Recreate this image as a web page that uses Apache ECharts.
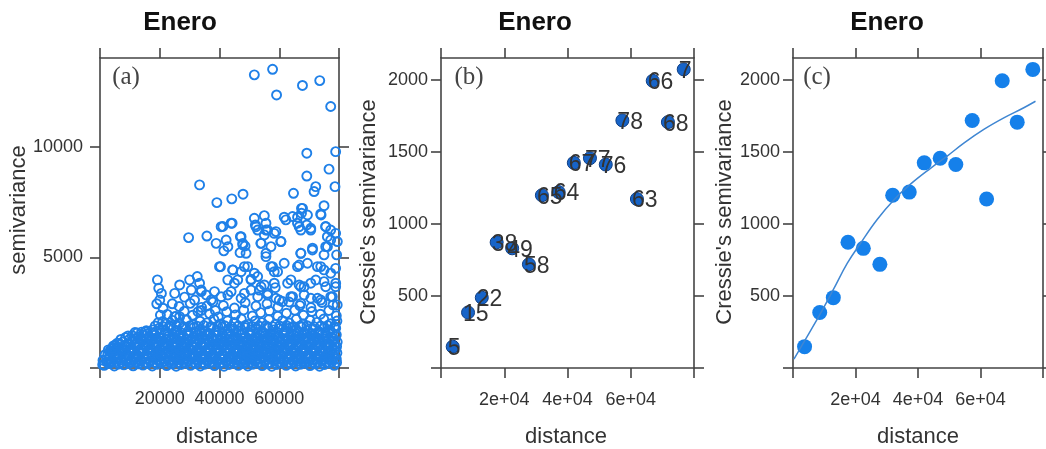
<!DOCTYPE html>
<html><head><meta charset="utf-8">
<script src="https://cdn.jsdelivr.net/npm/echarts@6/dist/echarts.min.js"></script>
<style>html,body{margin:0;padding:0;background:#fff}#c{width:1046px;height:449px}</style>
</head><body><div id="c"></div>
<script>
// ---------- text ----------
const panelTitles = ['Enero', 'Enero', 'Enero'];
const panelLetters = ['(a)', '(b)', '(c)'];
const xName = 'distance';
const yNames = ['semivariance', "Cressie's semivariance", "Cressie's semivariance"];

// ---------- ticks ----------
const xTicks = [0, 20000, 40000, 60000, 80000];
const xTickLabels = [20000, 40000, 60000];
const xTickTextA = ['20000', '40000', '60000'];
const xTickTextBC = ['2e+04', '4e+04', '6e+04'];
const yTicksA = [0, 5000, 10000];
const yLabelsA = [5000, 10000];
const yTicksBC = [0, 500, 1000, 1500, 2000];
const yLabelsBC = [500, 1000, 1500, 2000];

// ---------- panel (a): variogram cloud [distance, semivariance] ----------
const cloudOutliers = [
 [51660,13240],[57770,13490],[59100,12330],[67770,12760],[73550,12980],[77220,11810],
 [69220,9700],[78880,9770],[76660,8980],[69220,8670],[78660,8190],[72210,8190],[71660,7970],[64770,7890],[74990,7330],
 [33330,8270],[39110,7470],[44110,7640],[47880,7850],
 [67440,7210],[67440,6990],[73880,6960],[75550,6390],[78880,6080],[77220,5780],[75550,5480],[79440,5710],[70550,6310],[69220,6460],[62220,6690],[64440,6840],[66100,6540],
 [51660,6760],[55000,6880],[52000,6460],[55550,6230],[55000,6010],[53880,5630],[58880,6160],[60550,5710],[57220,5480],
 [29660,5890],[35770,5960],[38880,5630],[41440,5290],[42220,5780],[41110,6390],[44220,6540],[46990,5930],[48550,5510],[46880,5210],[47770,5630],
 [67220,5180],[71100,5330],[74990,5110],[79210,5110],[61660,4730],[55550,5030],[57770,4580],[59440,4350],[66100,4580],[69440,4730],[72770,4580],[74990,4430],[78880,4500],
 [40330,4580],[44440,4430],[47220,4350],[49440,4580],[52770,4130],[50550,4010],[46100,3980],[42770,3980],
 [55000,3750],[58660,3630],[63880,3980],[66660,3750],[68330,3670],[70550,3830],[74990,3900],[78880,3670],
 [19220,3980],[19660,3600],[20550,3370],[20000,3070],[21110,2700],[20220,2390],[19000,2900],[21000,2100],
 [26660,3750],[30000,3980],[32550,4130],[33330,3830],[30550,3520],[33880,3520],[35550,3300],[38330,3450],[40550,3220],[43880,3450],[48330,3370],[50550,3520],[53330,3520],[56100,3300],[58880,3150],[61100,3000],[63880,3220],[67220,2920],[70550,3150],[73880,3070],[77770,3220],[79400,2850],
 [67790,7210],[69440,6910],[73990,6910],[66130,6810],[61660,6810],[55550,6540],[52220,6380],[52770,6230],[56100,6230],[58330,6080],[66660,6380],[70550,6230],[67220,6230],[75550,6380],[77220,6230],[76100,5930],[43880,6540],[40550,6380],[47220,5930],
 [26660,2320],[25000,2320],[32800,2540],[37220,3070],[40000,4575],[31660,3070],[33900,3450],[25000,3370],[28300,3200],[24200,2900],[35800,2800],[38600,2600],
 [42800,5480],[47800,5560],[48900,5180],[53900,5630],[55560,5180],[60560,5710],[67230,5180],[71130,5410],[76130,5480],[44460,4430],[48330,4580],[51660,4280],[57230,4580],[58330,4350],[66660,4650],[73890,4580],[77230,4280],
 [45000,3830],[50560,3975],[53900,3670],[58330,3830],[62800,3830],[67230,3670],[72230,3975],[75560,3670],[78900,3830],
 [42800,3300],[47230,3150],[52800,3220],[56130,3375],[60000,3070],[64460,3220],[68330,3300],[72800,3150],[77230,3220]
];
const cloudDense = [
 [1000,350],[1700,600],[2800,820],[3700,700],[4500,1000],[900,150],[6130,890],[9400,1450],[11700,1600],[13900,1620],[15500,1680],
 [1400,120],[3100,210],[4800,90],[6300,180],[8000,140],[9600,230],[11100,100],[12900,190],[14400,130],[16000,220],[17500,90],[19200,170],[20700,240],[22300,110],[24000,190],[25500,80],[27200,160],[28800,230],[30300,120],[32000,200],[33600,90],[35100,170],[36800,240],[38300,110],[40000,190],[41500,80],[43200,160],[44800,230],[46300,120],[48000,200],[49500,90],[51200,170],[52800,240],[54300,110],[56000,190],[57500,80],[59200,160],[60800,230],[62300,120],[64000,200],[65500,90],[67200,170],[68800,240],[70300,110],[72000,190],[73500,80],[75200,160],[76800,230],[78400,120],
 [2300,270],[3900,250],[5600,290],[7200,260],[8800,300],[10400,250],[12000,280],[13600,300],[15200,260],[16800,290],[18400,250],[20000,280],[21600,300],[23200,260],[24800,290],[26400,250],[28000,270],[29600,300],[31200,260],[32800,280],[34400,250],[36000,300],[37600,270],[39200,290],[40800,250],[42400,280],[44000,300],[45600,260],[47200,290],[48800,250],[50400,270],[52000,300],[53600,260],[55200,280],[56800,250],[58400,300],[60000,270],[61600,290],[63200,250],[64800,280],[66400,300],[68000,260],[69600,290],[71200,250],[72800,270],[74400,300],[76000,260],[77600,280],[79200,250],
 [2200,380],[3900,330],[5500,450],[7100,360],[8800,420],[10300,340],[12000,460],[13600,370],[15200,410],[16800,330],[18400,450],[20000,360],[21500,430],[23200,340],[24800,460],[26400,370],[28000,410],[29600,330],[31100,450],[32800,360],[34400,430],[36000,340],[37600,460],[39100,370],[40800,410],[42400,330],[44000,450],[45500,360],[47200,430],[48800,340],[50400,460],[52000,370],[53500,410],[55200,330],[56800,450],[58400,360],[60000,430],[61500,340],[63200,460],[64800,370],[66400,410],[68000,330],[69500,450],[71200,360],[72800,430],[74400,340],[76000,460],[77500,370],[79100,410],
 [3200,520],[4800,540],[6300,500],[8000,530],[9600,550],[11100,510],[12900,540],[14400,500],[16000,530],[17500,550],[19200,510],[20700,540],[22300,500],[24000,530],[25500,550],[27200,510],[28800,540],[30300,500],[32000,530],[33600,550],[35100,510],[36800,540],[38300,500],[40000,530],[41500,550],[43200,510],[44800,540],[46300,500],[48000,530],[49500,550],[51200,510],[52800,540],[54300,500],[56000,530],[57500,550],[59200,510],[60800,540],[62300,500],[64000,530],[65500,550],[67200,510],[68800,540],[70300,500],[72000,530],[73500,550],[75200,510],[76800,540],[78400,500],
 [2600,620],[4300,700],[5900,590],[7500,680],[9100,610],[10700,720],[12300,600],[13900,690],[15500,580],[17100,670],[18700,710],[20300,600],[21900,680],[23500,590],[25100,720],[26700,630],[28300,690],[29900,580],[31500,660],[33100,710],[34700,600],[36300,680],[37900,590],[39500,720],[41100,630],[42700,690],[44300,580],[45900,660],[47500,710],[49100,600],[50700,680],[52300,590],[53900,720],[55500,630],[57100,690],[58700,580],[60300,660],[61900,710],[63500,600],[65100,680],[66700,590],[68300,720],[69900,630],[71500,690],[73100,580],[74700,660],[76300,710],[77900,600],[79300,680],
 [3400,780],[5000,800],[6600,770],[8200,810],[9800,790],[11400,760],[13000,800],[14600,780],[16200,810],[17800,770],[19400,790],[21000,800],[22600,760],[24200,810],[25800,780],[27400,790],[29000,770],[30600,810],[32200,780],[33800,760],[35400,800],[37000,790],[38600,810],[40200,770],[41800,780],[43400,800],[45000,760],[46600,810],[48200,790],[49800,770],[51400,800],[53000,780],[54600,810],[56200,760],[57800,790],[59400,800],[61000,770],[62600,810],[64200,780],[65800,760],[67400,800],[69000,790],[70600,810],[72200,770],[73800,780],[75400,800],[77000,760],[78600,810],
 [4100,880],[5700,950],[7300,860],[8900,980],[10500,890],[12100,940],[13700,850],[15300,970],[16900,900],[18500,960],[20100,860],[21700,990],[23300,880],[24900,940],[26500,850],[28100,970],[29700,900],[31300,950],[32900,860],[34500,980],[36100,890],[37700,940],[39300,850],[40900,970],[42500,900],[44100,960],[45700,860],[47300,990],[48900,880],[50500,940],[52100,850],[53700,970],[55300,900],[56900,950],[58500,860],[60100,980],[61700,890],[63300,940],[64900,850],[66500,970],[68100,900],[69700,960],[71300,860],[72900,990],[74500,880],[76100,940],[77700,850],[79200,970],
 [5000,1030],[6600,1060],[8200,1020],[9800,1050],[11400,1040],[13000,1070],[14600,1020],[16200,1050],[17800,1030],[19400,1060],[21000,1040],[22600,1020],[24200,1070],[25800,1030],[27400,1050],[29000,1040],[30600,1020],[32200,1060],[33800,1030],[35400,1070],[37000,1040],[38600,1020],[40200,1050],[41800,1060],[43400,1030],[45000,1040],[46600,1070],[48200,1020],[49800,1050],[51400,1030],[53000,1060],[54600,1040],[56200,1020],[57800,1070],[59400,1030],[61000,1050],[62600,1040],[64200,1060],[65800,1020],[67400,1050],[69000,1030],[70600,1070],[72200,1040],[73800,1020],[75400,1060],[77000,1030],[78600,1050],
 [5800,1120],[7700,1180],[9300,1100],[10900,1240],[12500,1150],[14100,1210],[15700,1110],[17300,1250],[18900,1160],[20500,1220],[22100,1120],[23700,1260],[25300,1140],[26900,1200],[28500,1100],[30100,1230],[31700,1170],[33300,1250],[34900,1110],[36500,1190],[38100,1240],[39700,1130],[41300,1210],[42900,1160],[44500,1260],[46100,1100],[47700,1200],[49300,1150],[50900,1240],[52500,1120],[54100,1210],[55700,1170],[57300,1250],[58900,1110],[60500,1190],[62100,1240],[63700,1130],[65300,1220],[66900,1160],[68500,1260],[70100,1100],[71700,1200],[73300,1150],[74900,1240],[76500,1120],[78100,1210],[79400,1170],
 [7000,1290],[9900,1310],[11800,1300],[13600,1320],[15400,1290],[17100,1310],[18800,1300],[20500,1330],[22200,1290],[23900,1310],[25600,1300],[27300,1320],[29000,1290],[30700,1310],[32400,1300],[34100,1330],[35800,1290],[37500,1310],[39200,1300],[40900,1320],[42600,1290],[44300,1310],[46000,1300],[47700,1330],[49400,1290],[51100,1310],[52800,1300],[54500,1320],[56200,1290],[57900,1310],[59600,1300],[61300,1330],[63000,1290],[64700,1310],[66400,1300],[68100,1320],[69800,1290],[71500,1310],[73200,1300],[74900,1330],[76600,1290],[78300,1310],
 [8600,1380],[10800,1460],[12700,1400],[14600,1500],[16500,1420],[18200,1480],[19900,1370],[21500,1510],[23100,1440],[24700,1390],[26300,1500],[27900,1420],[29500,1470],[31100,1380],[32700,1520],[34300,1430],[35900,1490],[37500,1400],[39100,1460],[40700,1370],[42300,1510],[43900,1440],[45500,1390],[47100,1500],[48700,1420],[50300,1480],[51900,1370],[53500,1510],[55100,1440],[56700,1400],[58300,1490],[59900,1420],[61500,1470],[63100,1380],[64700,1520],[66300,1430],[67900,1490],[69500,1400],[71100,1460],[72700,1370],[74300,1510],[75900,1440],[77500,1390],[79100,1500],
 [12400,1580],[16000,1560],[18000,1600],[20300,1590],[22600,1570],[24900,1610],[27200,1580],[29500,1560],[31800,1600],[34100,1590],[36400,1570],[38700,1610],[41000,1580],[43300,1560],[45600,1600],[47900,1590],[50200,1570],[52500,1610],[54800,1580],[57100,1560],[59400,1600],[61700,1590],[64000,1570],[66300,1610],[68600,1580],[70900,1560],[73200,1600],[75500,1590],[77800,1570],
 [15200,1650],[17600,1720],[19800,1800],[21900,1680],[23800,1840],[25700,1700],[27600,1790],[29500,1660],[31400,1830],[33300,1720],[35200,1650],[37100,1810],[39000,1700],[40900,1850],[42800,1680],[44700,1760],[46600,1660],[48500,1830],[50400,1710],[52300,1800],[54200,1670],[56100,1840],[58000,1720],[59900,1780],[61800,1660],[63700,1820],[65600,1700],[67500,1850],[69400,1690],[71300,1770],[73200,1660],[75100,1830],[77000,1710],[78900,1800],
 [18500,1900],[21000,1880],[23300,1920],[25600,1900],[27900,1870],[30200,1910],[32500,1890],[34800,1920],[37100,1880],[39400,1900],[41700,1910],[44000,1870],[46300,1900],[48600,1920],[50900,1880],[53200,1900],[55500,1910],[57800,1870],[60100,1900],[62400,1920],[64700,1880],[67000,1900],[69300,1910],[71600,1870],[73900,1900],[76200,1920],[78500,1880],
 [19500,2050],[22000,1980],[24300,2150],[26600,2020],[28900,2180],[31200,1960],[33500,2110],[35800,2040],[38100,2200],[40400,1990],[42700,2130],[45000,2060],[47300,2210],[49600,1970],[51900,2120],[54200,2050],[56500,2190],[58800,1980],[61100,2140],[63400,2030],[65700,2200],[68000,1990],[70300,2150],[72600,2060],[74900,2210],[77200,2000],[79300,2120],
 [22500,2420],[25400,2330],[28200,2560],[31000,2380],[33900,2600],[36700,2450],[39600,2310],[42400,2540],[45300,2400],[48100,2620],[51000,2350],[53800,2500],[56700,2580],[59500,2340],[62400,2470],[65200,2610],[68100,2380],[70900,2550],[73800,2430],[76600,2600],[79100,2360],
 [26500,2780],[30200,2920],[34000,2740],[37800,2980],[41300,2820],[45000,2710],[48600,2950],[52200,2800],[55900,2900],[59600,2760],[63300,2980],[66900,2820],[70600,2730],[74300,2960],[78000,2850]
];

// ---------- panels (b), (c): binned sample variogram ----------
const binDistance = [3700, 8550, 12900, 17600, 22500, 27800, 31900, 37200, 42000, 47100, 52100, 57350, 61950, 66950, 71750, 76750];
const binGamma    = [148, 385, 488, 872, 830, 719, 1198, 1220, 1423, 1455, 1411, 1717, 1172, 1992, 1705, 2071];
const binPairs    = ['5','15','22','38','49','58','65','64','67','77','76','78','63','66','68','7'];

// ---------- panel (c): fitted model curve ----------
const fitDistance = [300, 2940, 8580, 13060, 17340, 21600, 26940, 32260, 37600, 44000, 49340, 54660, 61060, 67460, 73860, 77600];
const fitGamma    = [62, 160, 370, 550, 725, 865, 1030, 1165, 1275, 1385, 1470, 1560, 1655, 1735, 1805, 1850];

// ---------- build ----------
const FONT = "'Liberation Sans', Arial, sans-serif";
const AX = '#444';
const lineStyle = {color: AX, width: 1.6};
const grids = [
  {left: 100, top: 58, width: 239, height: 310},
  {left: 441, top: 58, width: 253, height: 310},
  {left: 793, top: 58, width: 250, height: 310}
];
const xAxes = [], yAxes = [];
grids.forEach((g, i) => {
  const txt = i === 0 ? xTickTextA : xTickTextBC;
  const base = {gridIndex: i, type: 'value', min: 0, max: 80000, interval: 20000,
    axisLine: {show: true, onZero: false, lineStyle},
    axisTick: {show: true, length: 10, lineStyle, customValues: xTicks},
    splitLine: {show: false}};
  xAxes.push(Object.assign({}, base, {position: 'bottom',
    axisLabel: {show: true, customValues: xTickLabels, margin: i === 0 ? 22 : 23, fontSize: 18, fontFamily: FONT, color: '#333',
      formatter: v => txt[xTickLabels.indexOf(v)]}}));
  xAxes.push(Object.assign({}, base, {position: 'top', axisLabel: {show: false}}));
  const yt = i === 0 ? yTicksA : yTicksBC;
  const yl = i === 0 ? yLabelsA : yLabelsBC;
  const ybase = {gridIndex: i, type: 'value', min: 0, max: i === 0 ? 14000 : 2150, interval: i === 0 ? 5000 : 500,
    axisLine: {show: true, onZero: false, lineStyle},
    axisTick: {show: true, length: 10, lineStyle, customValues: yt},
    splitLine: {show: false}};
  yAxes.push(Object.assign({}, ybase, {position: 'left',
    axisLabel: {show: true, customValues: yl, margin: i === 0 ? 17 : 13, fontSize: 18, fontFamily: FONT, color: '#333',
      formatter: v => String(v)}}));
  yAxes.push(Object.assign({}, ybase, {position: 'right', axisLabel: {show: false}}));
});

const series = [
  {type: 'scatter', xAxisIndex: 0, yAxisIndex: 0, symbol: 'circle', symbolSize: 9,
   itemStyle: {color: 'rgba(0,0,0,0)', borderColor: '#1f80e8', borderWidth: 1.9, opacity: 1},
   data: cloudDense.concat(cloudOutliers), silent: true},
  {type: 'scatter', xAxisIndex: 2, yAxisIndex: 2, symbol: 'circle', symbolSize: 13,
   itemStyle: {color: '#1764c8', borderColor: '#0f3f85', borderWidth: 1, opacity: 1},
   data: binDistance.map((d, i) => [d, binGamma[i], binPairs[i]]),
   label: {show: true, position: 'inside', align: 'left', verticalAlign: 'middle', offset: [-5, 2],
     formatter: p => p.value[2], fontSize: 23, fontFamily: FONT, color: '#333'}, silent: true},
  {type: 'scatter', xAxisIndex: 4, yAxisIndex: 4, symbol: 'circle', symbolSize: 15,
   itemStyle: {color: '#1580ea', opacity: 1}, data: binDistance.map((d, i) => [d, binGamma[i]]), silent: true},
  {type: 'line', xAxisIndex: 4, yAxisIndex: 4, smooth: 0.4, showSymbol: false, z: 5,
   lineStyle: {color: '#3f86d2', width: 1.5}, data: fitDistance.map((d, i) => [d, fitGamma[i]]), silent: true}
];

const titleX = [180, 535, 887];
const letterPos = [[126, 77], [469, 77], [817, 77]];
const yNamePos = [[19, 210], [369, 212], [725, 212]];
const xNameX = [217, 566, 918];
const graphic = [];
for (let i = 0; i < 3; i++) {
  graphic.push({type: 'text', x: titleX[i], y: 23, style: {text: panelTitles[i], font: "bold 26px " + FONT, fill: '#111', align: 'center', verticalAlign: 'middle'}});
  graphic.push({type: 'text', x: letterPos[i][0], y: letterPos[i][1], z: 10, style: {text: panelLetters[i], font: "25px 'Liberation Serif', 'Times New Roman', serif", fill: '#444', align: 'center', verticalAlign: 'middle'}});
  graphic.push({type: 'text', x: yNamePos[i][0], y: yNamePos[i][1], rotation: Math.PI / 2, style: {text: yNames[i], font: "22px " + FONT, fill: '#333', align: 'center', verticalAlign: 'middle'}});
  graphic.push({type: 'text', x: xNameX[i], y: 437, style: {text: xName, font: "22px " + FONT, fill: '#333', align: 'center', verticalAlign: 'middle'}});
}

const chart = echarts.init(document.getElementById('c'), null, {renderer: 'canvas'});
chart.setOption({animation: false, backgroundColor: '#fff', grid: grids, xAxis: xAxes, yAxis: yAxes, series, graphic});
</script></body></html>
